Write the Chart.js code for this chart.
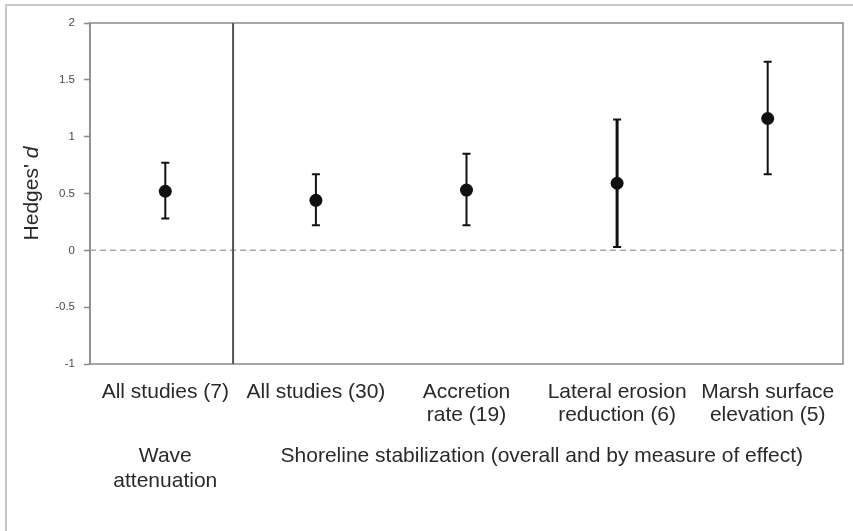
<!DOCTYPE html>
<html>
<head>
<meta charset="utf-8">
<script src="https://cdn.jsdelivr.net/npm/chart.js@4.4.1/dist/chart.umd.min.js"></script>
<style>
html,body{margin:0;padding:0;background:#fff;}
#wrap{width:853px;height:531px;position:relative;}
</style>
</head>
<body>
<div id="wrap"><canvas id="c" width="853" height="531"></canvas></div>
<script>
// ---- data ----
const categories = [
  ['All studies (7)'],
  ['All studies (30)'],
  ['Accretion', 'rate (19)'],
  ['Lateral erosion', 'reduction (6)'],
  ['Marsh surface', 'elevation (5)']
];
const hedgesD = [0.52, 0.44, 0.53, 0.59, 1.16];
const ciLower = [0.28, 0.22, 0.22, 0.03, 0.67];
const ciUpper = [0.77, 0.67, 0.85, 1.15, 1.66];
const groupLabels = [['Wave', 'attenuation'], ['Shoreline stabilization (overall and by measure of effect)']];
const groupFrom = [0, 1];
const groupTo = [0, 4];
const yTicks = [-1, -0.5, 0, 0.5, 1, 1.5, 2];
const yTickLabels = ['-1', '-0.5', '0', '0.5', '1', '1.5', '2'];
const yTitle = "Hedges' ";
const yTitleItalic = 'd';
const dividerAt = 0.45;   // between the two groups (category units)
const referenceY = 0;

// ---- styles ----
const errWidths = [2, 2, 2, 3, 2];
const FONT = '"Liberation Sans", Arial, sans-serif';
const TEXT = '#2a2a2a';

const deco = {
  id: 'deco',
  beforeDatasetsDraw(chart) {
    const {ctx, chartArea: a, scales: {x, y}} = chart;
    ctx.save();
    // outer frame
    ctx.strokeStyle = '#c8c8c8';
    ctx.lineWidth = 2;
    ctx.strokeRect(6, 5, 900, 600);
    // zero reference line
    const y0 = y.getPixelForValue(referenceY);
    ctx.strokeStyle = '#a8a8a8';
    ctx.lineWidth = 1.5;
    ctx.setLineDash([6, 4]);
    ctx.beginPath(); ctx.moveTo(a.left, y0); ctx.lineTo(a.right, y0); ctx.stroke();
    ctx.setLineDash([]);
    // plot box
    ctx.strokeStyle = '#8a8a8a';
    ctx.lineWidth = 1.5;
    ctx.strokeRect(a.left, a.top, a.right - a.left, a.bottom - a.top);
    // divider
    const xd = x.getPixelForValue(dividerAt);
    ctx.strokeStyle = '#555';
    ctx.lineWidth = 2;
    ctx.beginPath(); ctx.moveTo(xd, a.top); ctx.lineTo(xd, a.bottom); ctx.stroke();
    // error bars
    ctx.strokeStyle = '#111';
    hedgesD.forEach((v, i) => {
      const px = x.getPixelForValue(i);
      const yl = y.getPixelForValue(ciLower[i]);
      const yu = y.getPixelForValue(ciUpper[i]);
      ctx.lineWidth = errWidths[i];
      ctx.beginPath();
      ctx.moveTo(px, yl); ctx.lineTo(px, yu);
      ctx.stroke();
      ctx.lineWidth = 2;
      ctx.beginPath();
      ctx.moveTo(px - 4, yl); ctx.lineTo(px + 4, yl);
      ctx.moveTo(px - 4, yu); ctx.lineTo(px + 4, yu);
      ctx.stroke();
    });
    ctx.restore();
  },
  afterDraw(chart) {
    const {ctx, chartArea: a, scales: {x}} = chart;
    ctx.save();
    // y-axis title with italic d
    ctx.fillStyle = TEXT;
    ctx.translate(32, (a.top + a.bottom) / 2);
    ctx.rotate(-Math.PI / 2);
    ctx.textBaseline = 'middle';
    ctx.font = '21px ' + FONT;
    const w1 = ctx.measureText(yTitle).width;
    ctx.font = 'italic 21px ' + FONT;
    const w2 = ctx.measureText(yTitleItalic).width;
    const sx = -(w1 + w2) / 2;
    ctx.font = '21px ' + FONT;
    ctx.textAlign = 'left';
    ctx.fillText(yTitle, sx, 0);
    ctx.font = 'italic 21px ' + FONT;
    ctx.fillText(yTitleItalic, sx + w1, 0);
    ctx.restore();
    // group labels
    ctx.save();
    ctx.fillStyle = TEXT;
    ctx.font = '21px ' + FONT;
    ctx.textAlign = 'center';
    ctx.textBaseline = 'alphabetic';
    groupLabels.forEach((lines, g) => {
      const cx = (x.getPixelForValue(groupFrom[g]) + x.getPixelForValue(groupTo[g])) / 2;
      lines.forEach((t, k) => ctx.fillText(t, cx, 462 + k * 25));
    });
    ctx.restore();
  }
};

new Chart(document.getElementById('c'), {
  type: 'line',
  data: {
    labels: categories,
    datasets: [{
      data: hedgesD,
      showLine: false,
      pointRadius: 6.5,
      pointHoverRadius: 6.5,
      pointBackgroundColor: '#111',
      pointBorderColor: '#111',
      pointBorderWidth: 0
    }]
  },
  options: {
    responsive: false,
    animation: false,
    events: [],
    layout: {padding: {left: 0, right: 10, top: 23, bottom: 0}},
    plugins: {legend: {display: false}, tooltip: {enabled: false}},
    scales: {
      x: {
        type: 'category',
        offset: true,
        grid: {display: false, drawTicks: false},
        border: {display: false},
        ticks: {
          color: TEXT,
          font: {family: FONT, size: 21, lineHeight: 1.12},
          padding: 16,
          maxRotation: 0,
          autoSkip: false
        },
        afterFit(s) { s.height = 531 - 364; }
      },
      y: {
        min: -1, max: 2,
        afterBuildTicks(s) { s.ticks = yTicks.map(v => ({value: v})); },
        grid: {drawOnChartArea: false, drawTicks: true, tickLength: 6, tickColor: '#8a8a8a', tickWidth: 1.5},
        border: {display: true, color: '#8a8a8a', width: 1.5},
        ticks: {
          color: '#4a4a4a',
          font: {family: FONT, size: 11.5},
          padding: 9,
          callback(value, index) { return yTickLabels[index]; }
        },
        afterFit(s) { s.width = 90; }
      }
    }
  },
  plugins: [deco]
});
</script>
</body>
</html>
